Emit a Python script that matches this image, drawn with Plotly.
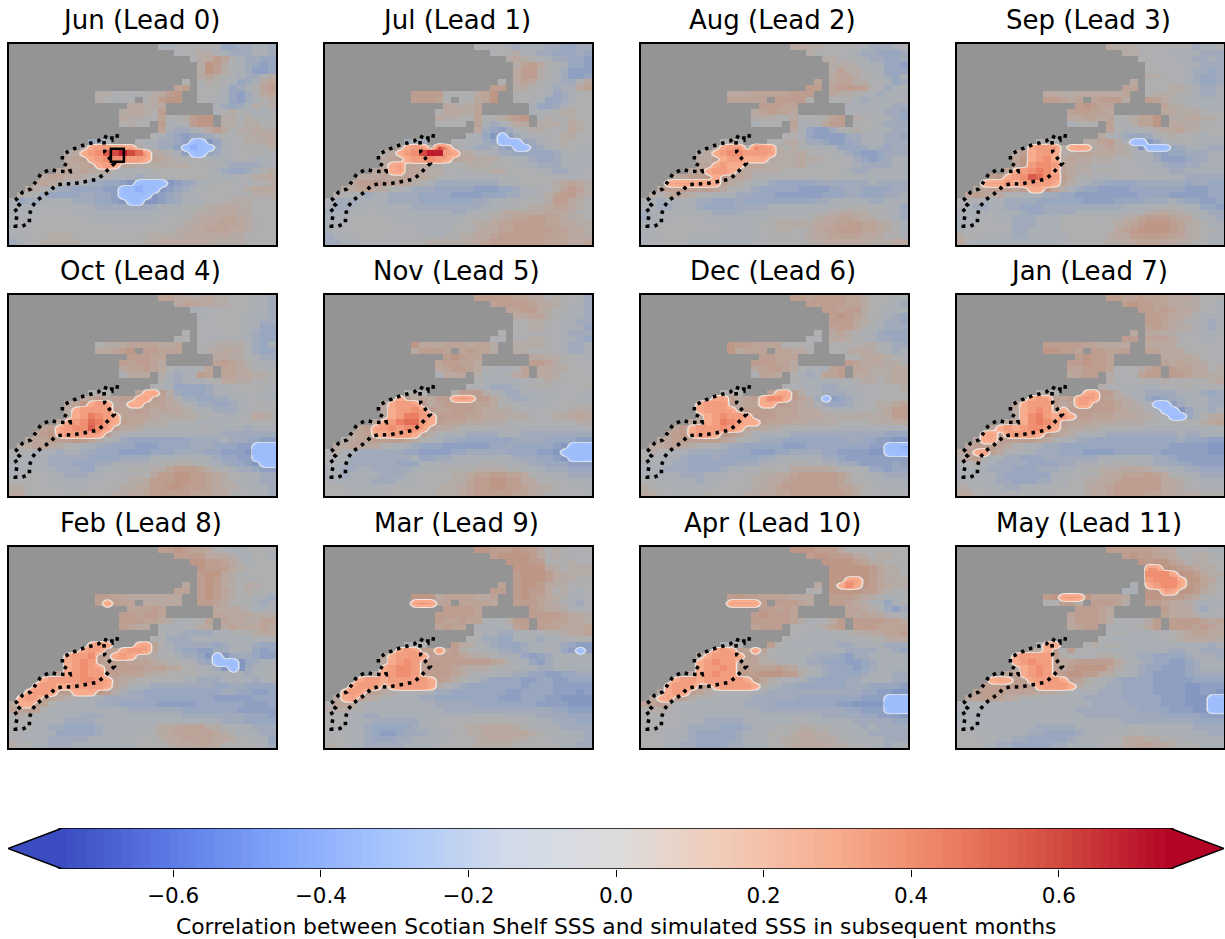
import numpy as np
import plotly.graph_objects as go

# Letter code per ocean cell: m = 0, each step = 0.05 (z = 0.70)
MONTH_TITLES = ["Jun (Lead 0)", "Jul (Lead 1)", "Aug (Lead 2)", "Sep (Lead 3)",
                "Oct (Lead 4)", "Nov (Lead 5)", "Dec (Lead 6)", "Jan (Lead 7)",
                "Feb (Lead 8)", "Mar (Lead 9)", "Apr (Lead 10)", "May (Lead 11)"]
CBAR_TICKS = [-0.6, -0.4, -0.2, 0.0, 0.2, 0.4, 0.6]
CBAR_LABEL = "Correlation between Scotian Shelf SSS and simulated SSS in subsequent months"

# ocean column spans per row (first, last)
OCEAN = [[(19,33)],[(21,33)],[(23,33)],[(24,33)],[(24,33)],[(24,33)],[(22,22),(24,33)],
 [(21,22),(24,33)],[(11,21),(24,33)],[(11,15),(17,21),(24,33)],[(15,19),(26,33)],[(14,19),(26,33)],
 [(14,25),(27,33)],[(14,17),(19,25),(27,33)],[(19,33)],[(18,33)],[(10,12),(16,33)],[(9,33)],
 [(7,33)],[(7,33)],[(7,33)],[(6,33)],[(4,33)],[(3,33)],[(2,33)],[(1,33)],
 [(0,33)],[(0,33)],[(0,33)],[(0,33)],[(0,33)],[(0,33)],[(0,33)],[(0,33)]]

JUN = ["kkllmmlliijjkkj","lmmnnlkjjjkkj","lnoqpmkjjii","nrqnlkjihi","nrqnlkjhhi","opnmlkjjln","mmnmlkijkop",
"pqlmmkijkmpq","nnlmlmmnoqrmmlkihjlop","nmklmmnqrrmllkihjkmn","oonnokjijknmn","noonmqlmnmlkkl",
"onnmmplmnqrrnnlnmlm","mnmmqklmqrrnnmnnml","pkjjkmoqolnnonn","lkjihiijkmlmnnoo","ijklkkjjihffgiklmnnnoo",
"nsttsssnlkjjhfeffiklmmmmn","nostuxyzywtonmkhffijklmmmll","opqstuuuttsponmmllkkklmlkkk","oopqstsponnnnnnnmmmlkjjjjkl",
"opopooomllllmmmmmmmlkjiijkmn","oppoonmllkkkjkkllmmmmllkklmnoo","oponlkkjjiihgffffghijkklmlllmmno",
"onmkjjiiiihhffeffghijklmmmlmnooo","nmljiiiijjiihffffghijkklmmmmmmnnn","kijjkkkkjjjiihgffgghijkklmmmnnnmmm",
"kkkkllllkkkjjjjjjjjkkklmmnnoonnmml","kkklllllkkkkkkkkkkkkllmmnnooonnmmm","klllmmmmmllkkkkkkkkllmmnnoopponmmm",
"lllmmmmmmmllllllllllmmnnooppponnmm","kllmmmmmmmmmmllllmmmmnnoopppoonmmm","kllmmnnnmmmmmmmmmmnnnnoooooonnmmmm","jklmnnnnnmmmmmmmmnnooooooonnnnmmmm"]
JUL = ["lmmmkjkkkjjiijj","lmmnkkjjiiiji","nonmlkjjiih","npqomlkiih","oqqnmkjhhh","oqqnmkjhhi","mopomlkjjmo",
"qqnnmmkjkkop","qqqqmmmloprmmmlkijklm","qqqpmlmoprmmlkiijkmm","onnopkiijkmmm","mooonpkkkmnnmm",
"onnmmplmnpqrlnmmnmm","lmmmpkjkmoonnnmonm","ojihjkmnnmlmonm","lkigfhjkklmmnnmm","jkjllkkjifffijklmnmml",
"osttnytnlkjjkihffijklmmll","nostuyzzttonmlkjjiiiiijklkk","opqsttutspoonnnmlkkjiijkkkk","ostpponnmmmnnnmmmlkkjjjkkkk",
"opstpponnmllmmmnnmmmlkkjjkkl","oooppppoonmllkkkkklllmmmlllkll","oqqqqpponmkjjjjjjjjkklmmmmnopon",
"nopponmlkjjjiiiiihhhiijkkllnpqpn","nmlkjkkjjjjiiiihhhhiiijjkklnpqqon","ljjjkkkkjjjjiiiiiiijjkkkllmmnqqonm",
"kjjkkllkkkkjjjjjjjjjkkllmmnnopponm","jkkllllkkkkkkkkkjjkllmnooooopoonmm","kkkmmmmllkkkkkkkklmmmnooppqqpponnm",
"kklmmmmmllllkkkkllmnnoppqqqqppoonn","kllmmmmmllllkkkkmmmnooppqqqqqppoon","jkkllmmmlllllkkmmnnoopqqqqqqpppoon","jjkkllllllmmmnnnnnoopqqqqqqqpppoop"]
AUG = ["oonnmmlllkjjjkl","nmmmmlkjjiiij","nnmmlkjjiij","nnnmlkkiih","npnnllkiii","oppnmlkjik","poppnnllkij",
"qqpqqqpmljkl","ooopppppqqqonnmlkjkkk","pppppqqqqmmmmkjkkkl","qqqppkkkkkkjj","opqppolllkkjji",
"nnnmmolmmnpqnmllkji","kmmmpkkmoqqmmlkjjj","okihhjlmnmlkkjj","mlkihhhhjjkkkjji","mnmmmnoljjihhijkkkjjj",
"ostunvttnmnllkkkiiijkjijj","nostuuttttonnomlllkjihhijjj","ooqsttsssonnnonnmmlljihijkk","opstsspponnnnommmmmlkjjjjkk",
"opsttsponnnnmmmmmlmlkjjkkkkk","opqqrsrppommlllllllmmlllkkkkkk","stttttsqonmkkjiiiiijjjjjjjkjjjj",
"oqqqqpqpomlkjiiiiihhhhiijjiiiijj","nmoponmlkkkjjiiihhhhhhiiijjiiijjk","lkjkklkjjiiijiiiiiiiiijjkkkkkjjkkk",
"kkjjkkkjiiiijjjjkkkkkkkkkllmmllkki","jkkllllkkjjjjkkkkkkkkllmnnonnmmlkj","jkkllmllkkkkkkkkmmmlmmnoopponnmlkj",
"kklmmmmmllkkkllmmnnnnnooppqqpponmk","kkmmmmmllllkkkkmmnnmmnoppqqqpponmk","kllmmmllllkkkkllmmmmmnooppppoonmmk","kllmmlkkkkkkkkllmmmmmnnoooooonnnoo"]
SEP = ["onnnmmllllljkkl","nnmmllkkkkjjj","mmlllkkjjkj","mmlllkkjjj","mmlllkjjij","nnmllkjiij","ommmmlkjiij",
"ppmmmnnmkjjk","oonnoooooopmnnnmlkjjk","qqpoppqqqnqpomlkkkk","qrqpppnnmlkkk","pqqppooonnnmll",
"ooppopmmnpprnnoonnm","kmmmpllnpproonnmml","pmkkllnoopnnmmm","olkjiijlmnmmkkll","mnmnopqnkffgiklmmlkkk",
"sttunstsnoponkgfffijkkkjj","oqsttsnoppooonnlkkihiijjjkk","prstusopoonnnmmlkkjhhhijjkk","prtuutponnmmmmllkkkjiijjkkk",
"pstuvusponnmmmmlllkkkjjkkkkk","qrstuxwutqommlkklllllllkkjjjjj","stttsttttspnlkjjiiiijjjjjjijjii",
"opqqqpqssrpnkjiihhhhiiiiiiihhhii","pqpoomlkkkjjiihhhhhhhhiiiihhhhhii","lmlkkkjjjjiiiiiihhhhiiiijjjkjiihhi",
"lkjjkkjjiiijjjjjjjjjjkkkkllmlkkiih","kkkklkkkjiijjjjkkkkkkkllnoonnmlkjj","kkkllkkjjjkkklmmmllmmnopqqqpoomkkj",
"kkllllljjjkkkmmmmmmmnopqrrrqpnnmkk","klmmllljjkkkkmmmmlmmopqrrrrqpnnmmk","nmmllkkjjkkkkkmmmmmnooqqqqqppnnmkk","olkkkkkkkkkkkllmmmmnnoopppoonnmmkk"]
OCT = ["ppoonnonnmmlkkj","oppoonnmmlkkj","kkllmmmlkkj","llmmmlkkkj","llmmmlkkjj","lllmmlkkii","mlllmmlkjii",
"mmlllmmlkjii","mnnoppppoopmmnnnnljik","oopqrqqpppmnnoonljii","qqqppoonnmljj","qpqqpopqpomlkk",
"oppqpolkkkmppponml","kooonkjklqpppoonnm","mkjkkkmmoonnmml","mlkiiiijkllmmmml","mnmpstqnjiiijkkllllkk",
"opqopqqstqpomjjiijjkkllkk","oprsttopssqpponlkjjiijklmml","osttttqppqpopoonmlkjjjklmmm","ostvutsppppon"+"nonnmllkklmoon",
"ostuwvtsqpponnmmmlkkkkllmmmm","pqttuuxutqoonmmmllllmllkkkjkkl","pqrstttttqnlkkkkkkkkkkkkjjjjjjj",
"oppqqqrqpnlkjiiiiiiiijjjjkjjiihh","nopponmlkkjjiiihhhiiiijjjiiihhfff","mmlkkkjkkjjiiihhhhiiijjjjiihhhgfff",
"llkkkjjjjjiiiijjjjkkkkllkkjiihhfff","kkkkkjjjiiijjkkkkllmmnnmmkkjiihgff","kkllkkjjjiikkllmmmnnpqqqpnmlkjjihh",
"klmmllkjjjkklllmmmoqqrrqqponmlkkjj","mmmmlkkkkkllmmmnnoqqqrrqqponmlkkjj","nnmmlllkkkllmmnnooqqrrqqqponnmlkkj","oommmmlllmmmmnnoopqqqqqpppoomlllkj"]
NOV = ["qqqqqppoomnmllj","pqqqqpoonmlkj","ppqqonmlkkj","ooppnmlkkj","mmnnmlkkjj","mmnnmlkkki","mmmmmllkjjj",
"llmmnnmlkkji","ropopppoppnnnnnmlkjjk","oqqqppqppnnnmmmlkjjk","qrqppoonnmmlk","pqqppoqqpnmmll",
"opqqpollkkmpoonnmml","koopnkkkmopoonmmll","mkkkkkllmnmmmmm","mlkjjjklmmmlllmm","mnmnqqqnlkjjkkkkllllk",
"sqopoqqtutqqomkjjkkllllkk","ostttqopqqqqppommlkkkllmmmm","osttutqppqqqpoonnmlllmmmnnn","ostvvtsqqqqppooonnnmmmnnopo",
"ostvwwtsqpppoonnnmmmlllmmmnn","pqttutuutpoonmmmmllllkkkkkkkkl","opqsstttspnlkkkjjjjkkkjjjjjjjjj",
"noppqqqqpomlkjjiiiiiiijjjjiiiihh","ooppoomlkkjiiihhhhhhiijiiiiihgfff",
"mnkkjjjjjjiihhhhiijjjjjiiiihhgffff","llkjjjjjjjjkiijjkkkkkkkkjjjiihgfff","lkkjjjjjjiiikkkkkkllmmlkkkjjiiihhh",
"kkjjkkjjjjjkkllmmmmnnnnmmlkkjjjiii","kkjkkkkjjjkllmmmnnoppqqppomlkkkjjj","lkkkkkjjjkkllmmmnnpqqrrqqoommllkkk",
"mmlkkkkkllllmmmnnopqqrrqqponnmlllk","mmmlllllmmmmmmnnnopqqqqqpponmmllll"]
DEC = ["qqpqqqqppnmmlkk","qqqqqppommlkj","qqpqqnmlkkk","qrqpnmlkji","qqqonmkjji","pqqomlkjjj","mopnmlkjiii",
"lloonmlkjjii","rqqppppmmmmmmmmnnlkjj","roppp"+"ppoom"+"mmnoonlkjk","qqpppmmooonml","qqqppoqpooonnm",
"opqqpolkkkpqponnnoo","kppomkjkppqoonnnoo","mlkkkkllmnnmnoo","mllkkjjkklmllmmn","mnmqstqnkkjjjkkllmmmm",
"stqopqsuusqpnjfhijkllmmmm","stttqoppssqqponkjiijklmnnop","stttt"+"pqqqqppp"+"oonmlkkl"+"mmnoqq","ostutt"+"sqqqpppooo"+"nnnnnnnnoqq",
"opstvutssqpppoonnnnmmmmnnnoo","pqstttutspoonnmmmmllllkkkkkkkl","pqrsttsrqpnlkkkkjjjjjjjjjjjjiii",
"opqqqqqqpomlkjjjiiiiiiiijjiihhgg","oopponmllkjjiiiiihhhiiiiiiiihhffe","mnmlkkjjjjjiiihhhiijjjjiihhhhggfff",
"mllkkjiiijiiiiijjkkkkkkjjihhhhhhhh","kkkkjjiiiiiijjjkkllmmllkkjjihhhhih","kkkjjjiiiijkkllmmmmooooonmllkiihii",
"kkkkkjjjkkkllmmnnoopqqqqqpnmlkkjjj","mlkkkkkjkkllmmnnoopqqqqqqpnmmlkkkk","nmllkkkkkllmmmnnopqqqqqqqppnmllkkk","onmlllllmmmmmnnooppqqqqqqqpommlmll"]
JAN = ["qqppqpppooonmmm","qrqqppoonnmmk","qqpqpoonmlk","qqpoonlkkk","qqponmlkjk","pqponnlkjk","ooonnmmlkkl",
"qqpppommlkkl","qqqqqppoooooooommmlll","rrqqpqqppqppooommmll","qrqqpoooonmll","qqrqqppopoonmm",
"ppqqqplmmnpqqppoomn","opqqnlllpqqqqpoonn","nlllmmmnmmmmmno","nllklkkkllmmllll","mnmstqqnlkkjjjjkkkjij",
"sttqpqtttqponlkihijjkkkjj","pstttqopttqqqponmkffhjkkkjj","ostutqsqqqqqqponnlkffgikkjk","osuvtstsqqpppooonnlkffikmno",
"opsuvutqpppooonnnnmmllllmnop","pststuutspoonnmmmmllkkkkkkkkkl","strttttsrponlkkkjjjjjjjjjkjjkkk",
"ossqqqqqpomlkjjiiiiiiiiiiijiiihh","oqqqpomlkkjjiiiiiiiiiiiiiihhhhhgg","oqsuqomlkkjjjiiihhhhiiiiiihhhhhhgg",
"npqmkkjjiiijjjjjjjkkkkkkkjjihhhhhh","lmnkkjjjjiiiijjkkkllmmlkkjjjiihhhh","kkkkjjjiiijjjkklmmnnnooonmlkkjjiii",
"kkkkkjiiiiiikkllmmnoopppqpomlkkjjj","llkkkjjiiijjkkmmnnoopqqqqqoonmlkkk","nmllkkjjkkkkllmmnoopqqqqqqoonmlkkk","oommlllkllllmmmmnoopqqqqppoonnnmmm"]
FEB = ["qqrqppomlkkmmll","qqqqooonkkmmk","rrqqpolklmm","rqqqonmlmm","qrronmlmml","qrqonmllmm","oqrqonmnnmm",
"ppqrqpnmnmml","qqppoooooooqrqonmmkkj","qtqppoooooqqpommlkjk","pppqpooonmkkl","qqpqqppoooonnn",
"qqqpponkkmmppoonnpp","qpoolkklmnoopooopo","mkkjjjjkklmmnoo","mmjjjkkkkkkkkllm","sttstpmkjjjjjijkkkjii",
"sttqpsttt"+"plkjiihhjjkkkihi","sttuqpttsoonmlkjjigfgijjihh","stutqpqqpppon"+"mmlljifffgijkk","stuttqqqqqpppoommlkjgfgjkkl",
"pstuttqqppponnmmmmlkkkkkjkkl","sttttuuttponmmmlllkkjjjkkkkjkl","sttssttttspnlkkjjjjjjjjiijjiiii",
"stttqqsssrqnkjjiiiiiiiiiijjiihhi","sttqponmlkkjjjjjiiiiiiiiihhhhhiii","ossqpmkkkkkjjjiiiiihhhhhiiiiiihhhi",
"ppqpmkkkkkkkkkkjjjjjjjiiiiiiihhhhh","mnmlllkkkjjjkkkkkkkkkkjjjjjjjjiiih","mmlkkkkjjjjkkkkkkkkkkkkkkkkjjjiiii",
"lmmkkjjiiiijkkkkkkmooopppnnllkkjjj","mlkkkkiiiiijkkkkllmnoppppponmkkkjj","mlkkkjjjjjkkkklllmmnooppppoonmlkki","nmmkkjjjkkkkkkkkllmmnooopoommmllkj"]
MAR = ["rrqqqrqqomnlllm","qrrrrqomnmlll","rrrqqmmmnll","rrrronmnnn","qrrrqonnnn","qrrrqonnmm","pqrrqonnlmm",
"qqqrqqomnlkl","rrroppppoopqrqponmkkl","tutppppppoqqqponlkjl","qqqqpqpoonlkl","qqqqqpqqqqpoon",
"qppqpplklnqqqqppoon","pqpplkkklpqqppooop","mkkjjkkllmmnoop","lljjiikkkjkkllmm","lmmqonlkjiiijkkkkjihh",
"sttqqupqnmlkkjjijkklkihfh","osttttqpqqponnmlkkihijkkkkk","ostutqqqqqqqqqpomkkihjklkkk","stuutqqqqponnnmmllkkjjkkkkk",
"ostuutqqqqpomlllkkjjiihhiijj","sttstttttsqpnmlkjiiiihhiihhiii","stttqsttttsnlkjiiiiiiihiiihhhhh",
"sttqponmlllkjjiiiiiiihhiiiihhhgh","ostqonmlkkkjjiiiiiiiihhhiiihhgggg","mppomkkkkkkkkkjjjjjiiiiiiiihhhhggg",
"nnnmmlkkkkkkkkkjjjjjjjjjjjjjjiihhh","mmlkkjjkkkkkkkkkkkkllllkkkkjjjjiii","mmlkkkjjjjjjkkllllmmmmmmllkkkjjjii",
"mmlkkjiiiiijkkllmmnnoooonmlkkkjjjj","lllkkjihhijjjkkkmmnnoooooonmllkkkj","mmlkkjiiijjkkkkllmmnoooonnmmlkkkkj","nmlkkjjjjjkkkkllmmmnnnnnmmmmmlkkjj"]
APR = ["rrrqqqommmmmmmm","qrrqqqonmnnmm","rrrrqpnnmmm","rrrrrqonnm","rrrrrqpnnm","rrttrqonnn","orsusrqponn",
"mmrrrrqqonmm","qrqqppppoooqqqponmkkl","ttttqqqqpoqqponkkikl","qqpqppponljhjk","qrqqqppopoomlk",
"qqqqqpnklmoqqqqqppo","pqqqmllmnpqqqqpppp","mllkkllmnnooppq","mllkkkkklllmmnoo","lmmqmlkkkkkkjjkkkkjjj",
"sttqptpmlllllkkkkjjjjkkji","osttttqpnmlkkkkjjjihjjkkkkk","stuttqppnnmllkjjiiihhijkkkk","sttutqqpppqpomlkjiiihijkkkk",
"ostuttqqqrrrqqnlkjiiiijkkkjj","sttstttttsrpnmlkkjiiiijjkkkkjj","stttqqsttttsnlkjjiiiiiijjjiiiih",
"osttqpnmmlllkkjjjjjjjjjjjjiihhgg","ostqpnmmlkkkkjjjjjjiiiiiiiihhhfff","ppqomllkkkkkkjjjjiiiiiiiihhggggfff",
"mnnmlkkkkkkkkkkjjjjjjjjjjjiihhhfff","mmmlllkkkkkkkkkkkkkkkkkjjjjjiihhhg","mmlllkkkjjjjjkkkkkkllkkkkkkjjjjjii",
"mmmllkjjjjiiijkkkmmmnnmmlkkkjkjjjj","mmlkkkjiiiiijkkkmmmnoonnmlkkkjjjjj","mmlkkkjiiiiijkkkmmnnoonnnmlkkkkjjj","mllkkjjiiiijjkkkmmnooooonnmllkkjkk"]
MAY = ["qqqqqqpoommllkk","qrqqppommnnml","rqrrpomnnmm","utrrqponnm","uuusrrqonn","tuuusrrpom","kstuusrqpnm",
"kkrrtsrrqonm","qrtutrpppporrqqqpomll","mmqqnqqqpnqqpoonlkkk","qqqpoqoookjkl","pqqqpopooonlll",
"oqqqpnllllnqqqqqpop","opqqlklmmoqqqqpqpo","lmlkkkllmnoppoo","lkkkkkkllmnoooon","lttmnmmmlkkkkkkkkkkjk",
"onsqmqmmllkkkkkkkkjjkkjjj","sttttqnmllmnnmlkjjiiiijkkkj","stuttqopqqqqqomlkjiihhijkkk","ostutqoqrrrrpnlkjiihhhijkkk",
"ppstutqqrrqqonmlkjihhhhijjjj","stsqqttttsqpnmlkjiiiihhhhhiiii","qqqqqqqttttsomlkjjiiiihhhhgghhh",
"pqqqppppoonmlkkkjjjiiiihhhhgghhg","opqqponmmllkkkkjjjjjiiiiihhhgggff","llllllkkkkkkkkkkkjjjjjiiiihhhgggff",
"kkkkkkkkkkkkkkkjjjjjjjjiiiihhhggff","kkkkkkkkkkkkkkkkjjjjjjjjjjiiiiihhh","kkkkkkkkkkkkkkkkkkkkkjjjjjjjjjiiii",
"llkkkkkkkkjjjjjkkkkkkkllkkkkkkjjjj","mllllkkkkjjiiiijkkkkllmmllkkkkkkjj","mmlllkkjjiiiiijkkklllnoonnmmlkkkkk","mmmkkjjiiiiijjkkkkllmooppoonmmlkkk"]
PANELS = [JUN, JUL, AUG, SEP, OCT, NOV, DEC, JAN, FEB, MAR, APR, MAY]

# Dotted shelf outline, in grid cell coordinates
SHELF_COL = [13.5,12.6,12.6,11.6,10.9,10.3,9.3,8.5,7.5,6.8,6.3,6.3,7.2,7.3,6.5,5.6,4.8,4.2,3.6,2.9,2.3,1.2,0.6,0.2,0.8,0.2,0.6,
             0.3,0.3,1.2,2.1,2.1,2.4,3.0,3.9,4.8,5.4,6.5,7.5,8.6,9.6,10.7,11.4,12.2,12.9,12.4,11.7,11.6,11.6]
SHELF_ROW = [15.1,14.9,15.7,15.1,15.9,16.1,16.5,16.8,17.4,17.9,18.2,19.6,20.3,21.1,21.0,21.0,20.7,21.1,21.4,22.8,24.0,24.6,25.6,26.0,26.7,27.3,28.1,
             29.8,30.3,30.3,29.8,28.4,27.1,26.0,25.2,24.3,23.4,23.1,23.2,22.9,22.6,22.4,21.7,20.7,19.7,19.0,17.8,16.1,15.1]
BOX_COL = [13.3]
BOX_ROW = [18.3]

W, H = 1225, 939
PANEL_L = [9, 325, 641, 957]
PANEL_T = [44, 295, 547]
PANEL_W, PANEL_H = 267, 201
NGRID = 34
LAND_GRAY = "#949494"
SIG_POS, SIG_NEG = 0.30, 0.33

CW = [(0.0,(59,76,192)),(0.1,(93,124,230)),(0.2,(130,166,251)),(0.3,(170,199,253)),(0.4,(209,218,233)),
      (0.5,(221,220,220)),(0.6,(242,203,183)),(0.7,(247,172,142)),(0.8,(236,127,99)),(0.9,(210,75,64)),(1.0,(180,4,38))]

def cw_rgb(t):
    ts = [a for a, _ in CW]
    return tuple(float(np.interp(t, ts, [c[i] for _, c in CW])) for i in range(3))

def rgb(c, a=1):
    return f"rgba({c[0]:.0f},{c[1]:.0f},{c[2]:.0f},{a})"

BASE_SCALE = [[a, rgb(c)] for a, c in CW]
ZMAX = 0.75
def zt(z):
    return (z + ZMAX) / (2 * ZMAX)

# muted look of the non-significant cells
MUTED_SCALE = []
for z in np.linspace(-ZMAX, ZMAX, 31):
    gain = 1.35 if z < 0 else 1.15
    c = cw_rgb(zt(float(np.clip(gain * z, -ZMAX, ZMAX))))
    MUTED_SCALE.append([zt(float(z)), rgb(tuple(0.55 * v + 0.45 * 120 for v in c))])
MUTED_SCALE[0][0] = 0.0; MUTED_SCALE[-1][0] = 1.0

def sig_scale():
    out = []
    for z in np.arange(-0.75, -0.3299, 0.05):
        out.append([zt(z), rgb(cw_rgb(zt(z)))])
    lo = cw_rgb(zt(-0.33)); hi = cw_rgb(zt(0.30))
    out += [[zt(-0.33), rgb(lo)], [zt(-0.175), rgb(lo)], [zt(-0.13), "rgba(225,233,248,1)"], [zt(-0.09), "rgba(195,198,205,0.9)"],
            [zt(-0.065), "rgba(190,190,190,0)"], [zt(0.065), "rgba(190,190,190,0)"],
            [zt(0.09), "rgba(200,198,195,0.9)"], [zt(0.13), "rgba(248,232,225,1)"], [zt(0.175), rgb(hi)]]
    for z in np.arange(0.30, 0.7501, 0.05):
        out.append([zt(z), rgb(cw_rgb(zt(z)))])
    out[0][0] = 0.0; out[-1][0] = 1.0
    return out
SIG_SCALE = sig_scale()

def decode(rows):
    z = np.full((NGRID, NGRID), np.nan)
    for r, spans in enumerate(OCEAN):
        cols = [c for a, b in spans for c in range(a, b + 1)]
        s = rows[r].replace(" ", "")
        s = (s + s[-1] * len(cols))[:len(cols)]
        for c, ch in zip(cols, s):
            z[r, c] = 0.70 if ch == "z" else (ord(ch) - ord("m")) * 0.05
    return z

fig = go.Figure()
layout = dict(width=W, height=H, margin=dict(l=0, r=0, t=0, b=0), paper_bgcolor="white",
              plot_bgcolor="white", showlegend=False, font=dict(family="DejaVu Sans", color="black"))
annotations = []
grid = list(range(NGRID))
for i, rows in enumerate(PANELS):
    col, row = i % 4, i // 4
    n = i + 1
    sx = "" if n == 1 else str(n)
    L, T = PANEL_L[col], PANEL_T[row]
    layout[f"xaxis{sx}"] = dict(domain=[L / W, (L + PANEL_W) / W], range=[-0.5, NGRID - 0.5], showticklabels=False,
                                ticks="", showgrid=False, zeroline=False, showline=True, mirror=True,
                                linecolor="black", linewidth=1.5, anchor=f"y{sx}")
    layout[f"yaxis{sx}"] = dict(domain=[1 - (T + PANEL_H) / H, 1 - T / H], range=[NGRID - 0.5, -0.5], showticklabels=False,
                                ticks="", showgrid=False, zeroline=False, showline=True, mirror=True,
                                linecolor="black", linewidth=1.5, anchor=f"x{sx}")
    z = decode(rows)
    zfilled = np.nan_to_num(z)
    sig = (zfilled >= SIG_POS - 1e-6) | (zfilled <= -SIG_NEG + 1e-6)
    zs = np.where(sig, zfilled, 0.0)
    nb = np.zeros_like(sig, dtype=int)
    nb[1:, :] += sig[:-1, :]; nb[:-1, :] += sig[1:, :]; nb[:, 1:] += sig[:, :-1]; nb[:, :-1] += sig[:, 1:]
    zin = np.where(sig & (nb >= 3), zfilled, np.nan)
    common = dict(x=grid, y=grid, xaxis=f"x{sx}", yaxis=f"y{sx}", zmin=-ZMAX, zmax=ZMAX, showscale=False, hoverinfo="skip")
    fig.add_trace(go.Heatmap(z=np.zeros_like(z), colorscale=[[0, LAND_GRAY], [1, LAND_GRAY]], **common))
    fig.add_trace(go.Heatmap(z=z, colorscale=MUTED_SCALE, **common))
    fig.add_trace(go.Heatmap(z=zs, colorscale=SIG_SCALE, zsmooth="best", **common))
    fig.add_trace(go.Heatmap(z=zin, colorscale=BASE_SCALE, **common))
    fig.add_trace(go.Scatter(x=SHELF_COL, y=SHELF_ROW, xaxis=f"x{sx}", yaxis=f"y{sx}", mode="lines",
                             line=dict(color="black", width=3.6, dash="3.5px,5px"), hoverinfo="skip"))
    if i == 0:
        fig.add_trace(go.Scatter(x=BOX_COL, y=BOX_ROW, xaxis="x", yaxis="y", mode="markers", hoverinfo="skip",
                                 marker=dict(symbol="square-open", size=13, color="black", line=dict(color="black", width=2.5))))
    annotations.append(dict(text=MONTH_TITLES[i], x=(L - 2 + PANEL_W / 2) / W, y=1 - (T - 24) / H, xref="paper", yref="paper",
                            showarrow=False, xanchor="center", yanchor="middle", font=dict(size=26, family="DejaVu Sans")))

# Colour bar
PX_PER_UNIT = 738.0
X0 = 616.0
cb_lo = (8 - X0) / PX_PER_UNIT
cb_hi = (1224 - X0) / PX_PER_UNIT
layout["xaxis13"] = dict(domain=[8 / W, 1224 / W], range=[cb_lo, cb_hi], tickvals=CBAR_TICKS, tickformat=".1f",
                         ticks="outside", ticklen=7, tickwidth=1.2, tickcolor="black", showgrid=False, zeroline=False,
                         tickfont=dict(size=21.5, family="DejaVu Sans"), anchor="y13", showline=False)
layout["yaxis13"] = dict(domain=[1 - 869 / H, 1 - 828 / H], range=[-0.5, 0.5], showticklabels=False, ticks="",
                         showgrid=False, zeroline=False, anchor="x13")
levels = np.linspace(-ZMAX, ZMAX, 121)
fig.add_trace(go.Heatmap(z=[levels.tolist()], x=levels.tolist(), y=[0], xaxis="x13", yaxis="y13", colorscale=BASE_SCALE,
                         zmin=-ZMAX, zmax=ZMAX, showscale=False, hoverinfo="skip"))
for tip, edge, c in [(cb_lo, -ZMAX, rgb(CW[0][1])), (cb_hi, ZMAX, rgb(CW[-1][1]))]:
    fig.add_trace(go.Scatter(x=[edge, tip, edge, edge], y=[-0.5, 0, 0.5, -0.5], xaxis="x13", yaxis="y13", mode="lines",
                             fill="toself", fillcolor=c, line=dict(width=0), hoverinfo="skip", cliponaxis=False))
fig.add_trace(go.Scatter(x=[-ZMAX, cb_lo, -ZMAX, ZMAX, cb_hi, ZMAX, -ZMAX], y=[-0.5, 0, 0.5, 0.5, 0, -0.5, -0.5],
                         xaxis="x13", yaxis="y13", mode="lines", line=dict(color="black", width=1.5),
                         hoverinfo="skip", cliponaxis=False))
annotations.append(dict(text=CBAR_LABEL, x=616 / W, y=1 - 926 / H, xref="paper", yref="paper", showarrow=False,
                        xanchor="center", yanchor="middle", font=dict(size=21.8, family="DejaVu Sans")))
layout["annotations"] = annotations
fig.update_layout(**layout)
fig.write_html("out.html", config={"displayModeBar": False},
               post_script="document.body.style.margin='0';document.documentElement.style.overflow='hidden';")
